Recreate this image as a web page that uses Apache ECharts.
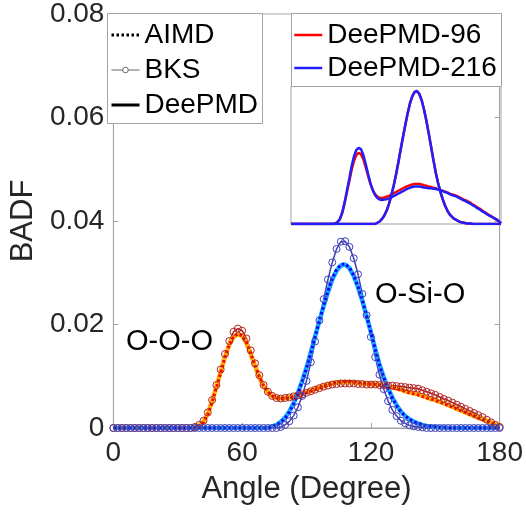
<!DOCTYPE html>
<html>
<head>
<meta charset="utf-8">
<script src="https://cdn.jsdelivr.net/npm/echarts@6/dist/echarts.min.js"></script>
<style>
  html, body { margin: 0; padding: 0; background: #fff; }
  #chart { width: 526px; height: 513px; }
</style>
</head>
<body>
<div id="chart"></div>
<script>
// bond angle, degrees (step 2)
const angle = [
  0, 2, 4, 6, 8, 10, 12, 14, 16, 18,
  20, 22, 24, 26, 28, 30, 32, 34, 36, 38,
  40, 42, 44, 46, 48, 50, 52, 54, 56, 58,
  60, 62, 64, 66, 68, 70, 72, 74, 76, 78,
  80, 82, 84, 86, 88, 90, 92, 94, 96, 98,
  100, 102, 104, 106, 108, 110, 112, 114, 116, 118,
  120, 122, 124, 126, 128, 130, 132, 134, 136, 138,
  140, 142, 144, 146, 148, 150, 152, 154, 156, 158,
  160, 162, 164, 166, 168, 170, 172, 174, 176, 178,
  180
]

// O-O-O
const aimdOOO = [
  0, 0, 0, 0, 0, 0, 0, 0, 0, 0,
  0, 0, 0, 0, 0, 0, 0, 0, 0, 0.0001,
  0.0004, 0.0011, 0.0026, 0.0050, 0.0078, 0.0107, 0.0137, 0.0161, 0.0177, 0.0182,
  0.0178, 0.0165, 0.0144, 0.0121, 0.0099, 0.0082, 0.0070, 0.0062, 0.0058, 0.0057,
  0.0057, 0.0058, 0.0060, 0.0062, 0.0065, 0.0068, 0.0071, 0.0074, 0.0077, 0.0080,
  0.0083, 0.0086, 0.0088, 0.0089, 0.0090, 0.0090, 0.0089, 0.0088, 0.0087, 0.0086,
  0.0085, 0.0084, 0.0083, 0.0082, 0.0080, 0.0078, 0.0076, 0.0073, 0.0071, 0.0068,
  0.0066, 0.0064, 0.0061, 0.0058, 0.0056, 0.0053, 0.0050, 0.0047, 0.0044, 0.0040,
  0.0037, 0.0033, 0.0030, 0.0026, 0.0023, 0.0019, 0.0016, 0.0013, 0.0010, 0.0006,
  0.0002
]
const bksOOO = [
  0, 0, 0, 0, 0, 0, 0, 0, 0, 0,
  0, 0, 0, 0, 0, 0, 0, 0, 0, 0.0002,
  0.0006, 0.0014, 0.0030, 0.0054, 0.0083, 0.0113, 0.0143, 0.0168, 0.0186, 0.0192,
  0.0188, 0.0173, 0.0150, 0.0125, 0.0102, 0.0083, 0.0070, 0.0062, 0.0058, 0.0057,
  0.0058, 0.0059, 0.0061, 0.0063, 0.0065, 0.0068, 0.0071, 0.0074, 0.0077, 0.0080,
  0.0082, 0.0084, 0.0085, 0.0086, 0.0086, 0.0086, 0.0086, 0.0085, 0.0085, 0.0084,
  0.0084, 0.0084, 0.0083, 0.0083, 0.0082, 0.0082, 0.0081, 0.0080, 0.0079, 0.0078,
  0.0077, 0.0076, 0.0073, 0.0070, 0.0067, 0.0064, 0.0060, 0.0056, 0.0053, 0.0049,
  0.0045, 0.0041, 0.0037, 0.0033, 0.0029, 0.0025, 0.0021, 0.0016, 0.0011, 0.0006,
  0.0002
]
const deepmdOOO = [
  0, 0, 0, 0, 0, 0, 0, 0, 0, 0,
  0, 0, 0, 0, 0, 0, 0, 0, 0, 0.0001,
  0.0005, 0.0012, 0.0028, 0.0052, 0.0080, 0.0108, 0.0138, 0.0161, 0.0176, 0.0181,
  0.0178, 0.0164, 0.0143, 0.0120, 0.0098, 0.0081, 0.0069, 0.0062, 0.0058, 0.0057,
  0.0058, 0.0059, 0.0061, 0.0063, 0.0066, 0.0069, 0.0072, 0.0075, 0.0078, 0.0081,
  0.0084, 0.0086, 0.0088, 0.0089, 0.0089, 0.0089, 0.0088, 0.0087, 0.0086, 0.0085,
  0.0085, 0.0084, 0.0083, 0.0082, 0.0080, 0.0078, 0.0076, 0.0074, 0.0071, 0.0069,
  0.0067, 0.0065, 0.0062, 0.0059, 0.0056, 0.0054, 0.0051, 0.0048, 0.0044, 0.0041,
  0.0037, 0.0034, 0.0030, 0.0027, 0.0023, 0.0020, 0.0017, 0.0014, 0.0011, 0.0007,
  0.0002
]
// inset, 96-atom cell
const deepmd96OOO = [
  0, 0, 0, 0, 0, 0, 0, 0, 0, 0,
  0, 0, 0, 0, 0, 0, 0, 0, 0, 0.0001,
  0.0005, 0.0012, 0.0027, 0.0050, 0.0076, 0.0102, 0.0129, 0.0150, 0.0164, 0.0169,
  0.0166, 0.0154, 0.0135, 0.0115, 0.0096, 0.0081, 0.0071, 0.0065, 0.0062, 0.0062,
  0.0063, 0.0065, 0.0067, 0.0070, 0.0073, 0.0076, 0.0079, 0.0082, 0.0085, 0.0088,
  0.0090, 0.0092, 0.0094, 0.0095, 0.0095, 0.0095, 0.0094, 0.0092, 0.0091, 0.0089,
  0.0088, 0.0086, 0.0085, 0.0083, 0.0081, 0.0079, 0.0077, 0.0075, 0.0072, 0.0070,
  0.0069, 0.0067, 0.0064, 0.0061, 0.0058, 0.0056, 0.0053, 0.0050, 0.0046, 0.0043,
  0.0039, 0.0036, 0.0032, 0.0028, 0.0025, 0.0021, 0.0018, 0.0014, 0.0011, 0.0007,
  0.0002
]

// O-Si-O
const aimdOSiO = [
  0, 0, 0, 0, 0, 0, 0, 0, 0, 0,
  0, 0, 0, 0, 0, 0, 0, 0, 0, 0,
  0, 0, 0, 0, 0, 0, 0, 0, 0, 0,
  0, 0, 0, 0, 0, 0, 0, 0.0003, 0.0006, 0.0011,
  0.0019, 0.0031, 0.0047, 0.0067, 0.0090, 0.0116, 0.0145, 0.0176, 0.0207, 0.0237,
  0.0265, 0.0289, 0.0306, 0.0316, 0.0317, 0.0310, 0.0295, 0.0273, 0.0247, 0.0217,
  0.0185, 0.0152, 0.0122, 0.0097, 0.0076, 0.0058, 0.0043, 0.0031, 0.0023, 0.0017,
  0.0012, 0.0009, 0.0006, 0.0004, 0.0003, 0.0002, 0.0001, 0.0001, 0, 0,
  0, 0, 0, 0, 0, 0, 0, 0, 0, 0,
  0
]
const bksOSiO = [
  0, 0, 0, 0, 0, 0, 0, 0, 0, 0,
  0, 0, 0, 0, 0, 0, 0, 0, 0, 0,
  0, 0, 0, 0, 0, 0, 0, 0, 0, 0,
  0, 0, 0, 0, 0, 0, 0, 0, 0, 0.0002,
  0.0006, 0.0013, 0.0024, 0.0040, 0.0062, 0.0091, 0.0127, 0.0167, 0.0208, 0.0249,
  0.0287, 0.0320, 0.0346, 0.0360, 0.0361, 0.0350, 0.0328, 0.0297, 0.0259, 0.0218,
  0.0176, 0.0137, 0.0103, 0.0075, 0.0052, 0.0035, 0.0023, 0.0014, 0.0009, 0.0005,
  0.0003, 0.0002, 0.0001, 0, 0, 0, 0, 0, 0, 0,
  0, 0, 0, 0, 0, 0, 0, 0, 0, 0,
  0
]
const deepmdOSiO = [
  0, 0, 0, 0, 0, 0, 0, 0, 0, 0,
  0, 0, 0, 0, 0, 0, 0, 0, 0, 0,
  0, 0, 0, 0, 0, 0, 0, 0, 0, 0,
  0, 0, 0, 0, 0, 0, 0, 0.0003, 0.0006, 0.0012,
  0.0020, 0.0032, 0.0048, 0.0068, 0.0091, 0.0117, 0.0146, 0.0177, 0.0207, 0.0236,
  0.0263, 0.0287, 0.0304, 0.0314, 0.0316, 0.0309, 0.0294, 0.0272, 0.0246, 0.0216,
  0.0185, 0.0153, 0.0123, 0.0098, 0.0077, 0.0059, 0.0044, 0.0032, 0.0023, 0.0017,
  0.0012, 0.0009, 0.0006, 0.0004, 0.0003, 0.0002, 0.0001, 0.0001, 0, 0,
  0, 0, 0, 0, 0, 0, 0, 0, 0, 0,
  0
]

const xTicks = { min: 0, max: 180, step: 60 }
const yTicks = { min: 0, max: 0.08, step: 0.02 }
const insetYMax = 0.0328

const FONT = '"Liberation Sans", Arial, sans-serif'
const GRAY = '#a3a3a3'
const INK = '#262626'

function pairs (ys) {
  return angle.map((a, i) => [a, ys[i]])
}

function lineSeries (name, ys, color, width, dash, gi) {
  return {
    name: name,
    type: 'line',
    xAxisIndex: gi === 1 ? 1 : 0,
    yAxisIndex: gi === 1 ? 2 : 0,
    data: pairs(ys),
    showSymbol: false,
    symbol: 'none',
    silent: true,
    lineStyle: { color: color, width: width, type: dash || 'solid', cap: 'butt' },
    itemStyle: { color: color }
  }
}

function bksSeries (name, ys, color) {
  return {
    name: name,
    type: 'line',
    data: pairs(ys),
    symbol: 'circle',
    symbolSize: 7,
    silent: true,
    lineStyle: { color: color, width: 1.5 },
    itemStyle: { color: 'rgba(0,0,0,0)', borderColor: color, borderWidth: 1 }
  }
}

function legendDummy (name, lineStyle, symbol, itemStyle) {
  return {
    name: name,
    type: 'line',
    data: [],
    symbol: symbol || 'none',
    lineStyle: lineStyle,
    itemStyle: itemStyle || { color: lineStyle.color }
  }
}

const chart = echarts.init(document.getElementById('chart'))

const option = {
  animation: false,
  textStyle: { fontFamily: FONT },
  grid: [
    { left: 107, top: 14, width: 394, height: 414, show: true, borderColor: GRAY, borderWidth: 1, backgroundColor: '#fff' },
    { left: 291, top: 86, width: 210, height: 138, show: true, borderColor: GRAY, borderWidth: 1, backgroundColor: '#fff' }
  ],
  xAxis: [
    {
      gridIndex: 0,
      type: 'value',
      min: xTicks.min,
      max: xTicks.max,
      interval: xTicks.step,
      name: 'Angle (Degree)',
      nameLocation: 'middle',
      nameGap: 46,
      nameTextStyle: { fontSize: 31, color: INK, fontFamily: FONT },
      axisLine: { show: true, lineStyle: { color: GRAY } },
      axisTick: { show: true, inside: true, length: 5, lineStyle: { color: GRAY } },
      axisLabel: { fontSize: 28, color: INK, margin: 11, fontFamily: FONT },
      splitLine: { show: false }
    },
    { gridIndex: 1, type: 'value', min: xTicks.min, max: xTicks.max, show: false }
  ],
  yAxis: [
    {
      gridIndex: 0,
      type: 'value',
      min: yTicks.min,
      max: yTicks.max,
      interval: yTicks.step,
      name: 'BADF',
      nameLocation: 'middle',
      nameGap: 68,
      nameTextStyle: { fontSize: 31, color: INK, fontFamily: FONT },
      axisLine: { show: true, lineStyle: { color: GRAY } },
      axisTick: { show: true, inside: true, length: 5, lineStyle: { color: GRAY } },
      axisLabel: {
        fontSize: 28, color: INK, margin: 9, fontFamily: FONT,
        formatter: v => (v === 0 ? '0' : v.toFixed(2))
      },
      splitLine: { show: false }
    },
    {
      gridIndex: 0,
      type: 'value',
      position: 'right',
      min: yTicks.min,
      max: yTicks.max,
      interval: yTicks.step,
      axisLine: { show: true, lineStyle: { color: GRAY } },
      axisTick: { show: true, inside: true, length: 5, lineStyle: { color: GRAY } },
      axisLabel: { show: false },
      splitLine: { show: false }
    },
    { gridIndex: 1, type: 'value', min: 0, max: insetYMax, show: false }
  ],
  legend: [
    {
      data: [
        { name: 'AIMD', itemStyle: { opacity: 0 }, lineStyle: { width: 3, type: [2.5, 2.5], color: '#000' } },
        { name: 'BKS', itemStyle: { borderWidth: 1 }, lineStyle: { width: 1, color: '#666' } },
        { name: 'DeePMD', itemStyle: { opacity: 0 }, lineStyle: { width: 3, color: '#000' } }
      ],
      orient: 'vertical',
      left: 110,
      top: 21,
      padding: 0,
      itemWidth: 28,
      itemHeight: 7,
      itemGap: 7,
      selectedMode: false,
      textStyle: { fontSize: 28, color: '#000', fontFamily: FONT }
    },
    {
      data: [
        { name: 'DeePMD-96', itemStyle: { opacity: 0 }, lineStyle: { width: 2.5, color: '#ff0000' } },
        { name: 'DeePMD-216', itemStyle: { opacity: 0 }, lineStyle: { width: 2.5, color: '#2020ff' } }
      ],
      orient: 'vertical',
      left: 293,
      top: 21,
      padding: 0,
      itemWidth: 28,
      itemHeight: 7,
      itemGap: 5,
      selectedMode: false,
      textStyle: { fontSize: 28, color: '#000', fontFamily: FONT }
    }
  ],
  graphic: [
    { type: 'rect', z: 3, shape: { x: 107.5, y: 13.5, width: 155, height: 110 }, style: { fill: '#fff', stroke: GRAY, lineWidth: 1 } },
    { type: 'rect', z: 3, shape: { x: 291.5, y: 13.5, width: 210, height: 73 }, style: { fill: '#fff', stroke: GRAY, lineWidth: 1 } },
    { type: 'text', z: 5, style: { x: 126, y: 342, text: 'O-O-O', fontSize: 29, fontFamily: FONT, fill: '#000', verticalAlign: 'middle' } },
    { type: 'text', z: 5, style: { x: 375, y: 295, text: 'O-Si-O', fontSize: 29, fontFamily: FONT, fill: '#000', verticalAlign: 'middle' } }
  ],
  series: [
    bksSeries('BKS O-O-O', bksOOO, '#b22222'),
    lineSeries('DeePMD O-O-O', deepmdOOO, '#ffb000', 4.5),
    lineSeries('AIMD O-O-O', aimdOOO, '#ff0000', 3, [2.5, 2.5]),
    bksSeries('BKS O-Si-O', bksOSiO, '#4040b8'),
    lineSeries('DeePMD O-Si-O', deepmdOSiO, '#1aa7ff', 4.5),
    lineSeries('AIMD O-Si-O', aimdOSiO, '#0000ff', 3, [2.5, 2.5]),

    legendDummy('AIMD', { color: '#000', width: 3, type: [2.5, 2.5] }),
    legendDummy('BKS', { color: '#666', width: 1 }, 'circle', { color: '#fff', borderColor: '#666', borderWidth: 1 }),
    legendDummy('DeePMD', { color: '#000', width: 3 }),

    lineSeries('DeePMD-96', deepmd96OOO, '#ff0000', 2.5, null, 1),
    lineSeries('DeePMD-96', deepmdOSiO, '#ff0000', 2.5, null, 1),
    lineSeries('DeePMD-216', deepmdOOO, '#2020ff', 2.5, null, 1),
    lineSeries('DeePMD-216', deepmdOSiO, '#2020ff', 2.5, null, 1)
  ]
}

chart.setOption(option)
</script>
</body>
</html>
